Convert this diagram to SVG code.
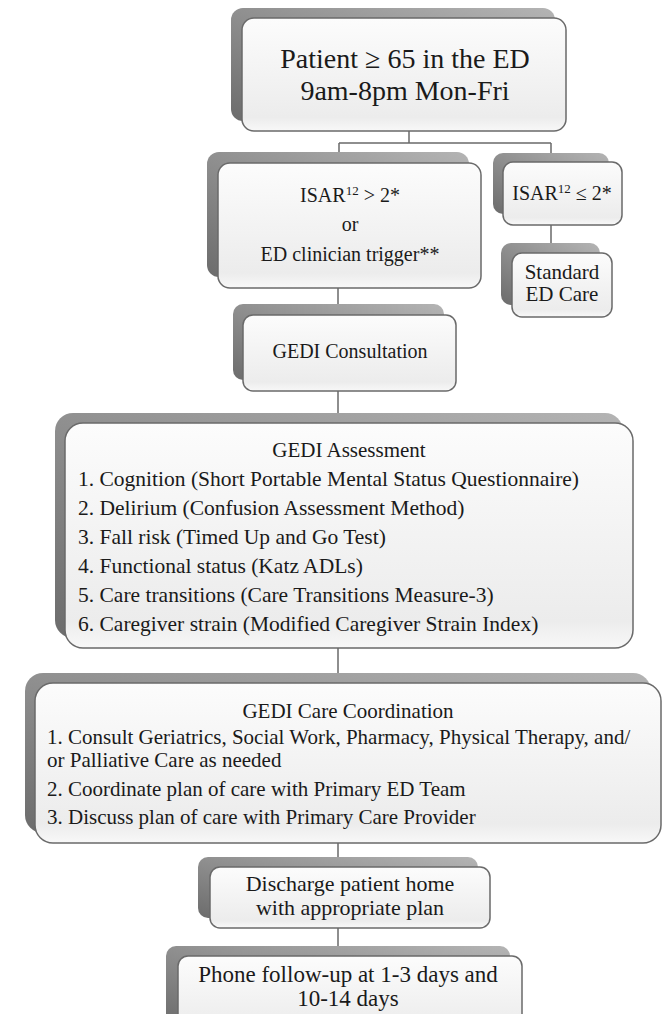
<svg xmlns="http://www.w3.org/2000/svg" width="664" height="1014" viewBox="0 0 664 1014">
<defs>
<linearGradient id="sh" x1="1" y1="0" x2="0" y2="1"><stop offset="0" stop-color="#b4b4b4"/><stop offset="1" stop-color="#6c6c6c"/></linearGradient>
<linearGradient id="fr" x1="0" y1="0" x2="0" y2="1"><stop offset="0" stop-color="#fcfcfc"/><stop offset="0.88" stop-color="#ececec"/><stop offset="1" stop-color="#f8f8f8"/></linearGradient>
</defs>
<style>
.sh{fill:url(#sh);}
.fr{fill:url(#fr);stroke:#6a6a6a;stroke-width:1.5;}
.t{font-family:"Liberation Serif","Times New Roman",serif;fill:#1a1a1a;}
.c{text-anchor:middle;}
.conn{stroke:#6a6a6a;stroke-width:1.5;fill:none;}
</style>
<rect width="664" height="1014" fill="#ffffff"/>
<g id="connectors">
<path class="conn" d="M409,131 V143 M339,143 H551 M339,143 V152 M551,143 V153 M551,225 V243 M338,288 V304 M338,391 V413 M338,648 V673 M338,843 V857 M338,928 V946"/>
</g>
<g id="patient">
<rect class="sh" x="231" y="8" width="324" height="113" rx="12"/>
<rect class="fr" x="242" y="18" width="324" height="113" rx="12"/>
<text class="t c" x="405" y="68" font-size="28">Patient ≥ 65 in the ED</text>
<text class="t c" x="405" y="100" font-size="28">9am-8pm Mon-Fri</text>
</g>
<g id="isar-high">
<rect class="sh" x="207" y="152" width="262" height="125" rx="12"/>
<rect class="fr" x="218" y="163" width="263" height="125" rx="12"/>
<text class="t c" x="350" y="202" font-size="20">ISAR<tspan font-size="13" dy="-7">12</tspan><tspan dy="7"> &gt; 2*</tspan></text>
<text class="t c" x="350" y="231" font-size="20">or</text>
<text class="t c" x="350" y="261" font-size="20">ED clinician trigger**</text>
</g>
<g id="isar-low">
<rect class="sh" x="493" y="153" width="116" height="61" rx="10"/>
<rect class="fr" x="503" y="162" width="119" height="63" rx="10"/>
<text class="t c" x="562" y="200" font-size="20">ISAR<tspan font-size="13" dy="-7">12</tspan><tspan dy="7"> ≤ 2*</tspan></text>
</g>
<g id="standard">
<rect class="sh" x="501" y="243" width="99" height="62" rx="10"/>
<rect class="fr" x="512" y="253" width="100" height="64" rx="10"/>
<text class="t c" x="562" y="279" font-size="21">Standard</text>
<text class="t c" x="562" y="301" font-size="21">ED Care</text>
</g>
<g id="consultation">
<rect class="sh" x="233" y="304" width="211" height="76" rx="10"/>
<rect class="fr" x="243" y="315" width="213" height="76" rx="10"/>
<text class="t c" x="350" y="358" font-size="20">GEDI Consultation</text>
</g>
<g id="assessment">
<rect class="sh" x="55" y="413" width="568" height="225" rx="18"/>
<rect class="fr" x="65" y="423" width="568" height="225" rx="18"/>
<text class="t c" x="349" y="457" font-size="21">GEDI Assessment</text>
<text class="t" x="78" y="486" font-size="21.5">1. Cognition (Short Portable Mental Status Questionnaire)</text>
<text class="t" x="78" y="515" font-size="21.5">2. Delirium (Confusion Assessment Method)</text>
<text class="t" x="78" y="544" font-size="21.5">3. Fall risk (Timed Up and Go Test)</text>
<text class="t" x="78" y="573" font-size="21.5">4. Functional status (Katz ADLs)</text>
<text class="t" x="78" y="602" font-size="21.5">5. Care transitions (Care Transitions Measure-3)</text>
<text class="t" x="78" y="631" font-size="21.5">6. Caregiver strain (Modified Caregiver Strain Index)</text>
</g>
<g id="coordination">
<rect class="sh" x="25" y="673" width="626" height="160" rx="18"/>
<rect class="fr" x="35" y="683" width="626" height="160" rx="18"/>
<text class="t c" x="348" y="718" font-size="21">GEDI Care Coordination</text>
<text class="t" x="47" y="744" font-size="21">1. Consult Geriatrics, Social Work, Pharmacy, Physical Therapy, and/</text>
<text class="t" x="47" y="767" font-size="21">or Palliative Care as needed</text>
<text class="t" x="47" y="796" font-size="21">2. Coordinate plan of care with Primary ED Team</text>
<text class="t" x="47" y="824" font-size="21">3. Discuss plan of care with Primary Care Provider</text>
</g>
<g id="discharge">
<rect class="sh" x="198" y="857" width="280" height="61" rx="10"/>
<rect class="fr" x="210" y="867" width="280" height="61" rx="10"/>
<text class="t c" x="350" y="891" font-size="22">Discharge patient home</text>
<text class="t c" x="350" y="915" font-size="22">with appropriate plan</text>
</g>
<g id="phone">
<rect class="sh" x="166" y="946" width="344" height="80" rx="10"/>
<rect class="fr" x="178" y="956" width="344" height="80" rx="10"/>
<text class="t c" x="348" y="982" font-size="23">Phone follow-up at 1-3 days and</text>
<text class="t c" x="348" y="1006" font-size="23">10-14 days</text>
</g>
</svg>
